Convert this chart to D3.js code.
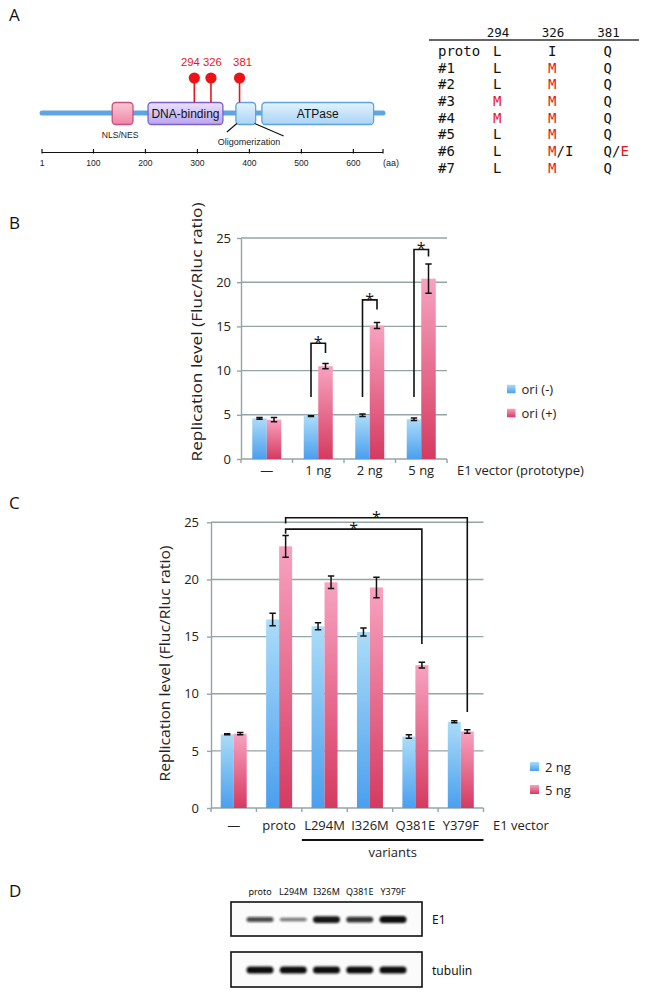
<!DOCTYPE html>
<html><head><meta charset="utf-8">
<script src="https://cdn.jsdelivr.net/npm/d3@7"></script>
<style>body{margin:0;background:#fff} svg{display:block}</style>
</head><body><svg id="fig" width="646" height="1006"></svg>
<script>
// ================= DATA =================
// Panel A – domain map
const domainNames = ["NLS/NES", "DNA-binding", "Oligomerization", "ATPase"];
const domainStart = [136, 205, 374, 424];
const domainEnd = [176, 349, 412, 639];
const proteinLength = 657;
const siteLabels = [294, 326, 381];
const rulerTicks = [1, 100, 200, 300, 400, 500, 600];
// Panel A – table
const tableHeader = ["294", "326", "381"];
const tableRows = ["proto", "#1", "#2", "#3", "#4", "#5", "#6", "#7"];
const col294 = ["L", "L", "L", "M", "M", "L", "L", "L"];
const col326 = ["I", "M", "M", "M", "M", "M", "M/I", "M"];
const col381 = ["Q", "Q", "Q", "Q", "Q", "Q", "Q/E", "Q"];

// Panel B
const bCategories = ["—", "1 ng", "2 ng", "5 ng"];
const bSeries = ["ori (-)", "ori (+)"];
const bOriMinus = [4.6, 4.85, 4.95, 4.5];
const bOriMinusErr = [0.1, 0.05, 0.15, 0.15];
const bOriPlus = [4.45, 10.5, 15.1, 20.4];
const bOriPlusErr = [0.25, 0.3, 0.35, 1.65];
const bYTicks = [0, 5, 10, 15, 20, 25];
const bCompared = ["1 ng", "2 ng", "5 ng"];
const bBracketTop = [13.1, 18.0, 23.7];
const bBracketLeftEnd = [7, 7, 7];
const bBracketRightEnd = [12.0, 16.9, 22.9];

// Panel C
const cCategories = ["—", "proto", "L294M", "I326M", "Q381E", "Y379F"];
const cSeries = ["2 ng", "5 ng"];
const c2ng = [6.45, 16.5, 15.9, 15.4, 6.25, 7.55];
const c2ngErr = [0.05, 0.55, 0.3, 0.35, 0.15, 0.08];
const c5ng = [6.5, 22.9, 19.75, 19.3, 12.5, 6.7];
const c5ngErr = [0.1, 0.95, 0.55, 0.9, 0.25, 0.15];
const cYTicks = [0, 5, 10, 15, 20, 25];
const cCompareFrom = ["proto", "proto"];
const cCompareTo = ["Q381E", "Y379F"];
const cBracketTop = [24.4, 25.4];
const cBracketLeftEnd = [24.0, 24.9];
const cBracketRightEnd = [14.35, 8.4];
const cVariants = ["L294M", "I326M", "Q381E", "Y379F"];

// Panel D – western blot
const dLanes = ["proto", "L294M", "I326M", "Q381E", "Y379F"];
const dE1 = [0.6, 0.3, 0.95, 0.75, 1.0];
const dTubulin = [1.0, 1.0, 1.0, 1.0, 1.0];

// ================= DRAWING =================
const svg = d3.select("#fig");
const defs = svg.append("defs");
const SANS = "'Open Sans', 'Noto Sans', sans-serif";
const ARIAL = "'Liberation Sans', Arial, sans-serif";
const MONO = "'DejaVu Sans Mono', 'Liberation Mono', monospace";

function grad(id, c1, c2) {
  const g = defs.append("linearGradient").attr("id", id)
    .attr("x1", 0).attr("y1", 0).attr("x2", 0).attr("y2", 1);
  g.append("stop").attr("offset", "0%").attr("stop-color", c1);
  g.append("stop").attr("offset", "100%").attr("stop-color", c2);
}
grad("blueBar", "#abdcf8", "#4a9fee");
grad("pinkBar", "#f8a2c0", "#d53a60");
grad("gNLS", "#fbc9d8", "#ef84a6");
grad("gDNA", "#ebe2fc", "#baa5f0");
grad("gBlue", "#e3f2fd", "#a9d4f5");
const blur = defs.append("filter").attr("id", "blur").attr("x", "-20%").attr("y", "-100%").attr("width", "140%").attr("height", "300%");
blur.append("feGaussianBlur").attr("stdDeviation", 1.1);

// panel letters
[["A", 21], ["B", 229], ["C", 509], ["D", 897]].forEach(([t, yy]) => {
  svg.append("text").attr("x", 9).attr("y", yy).text(t)
    .attr("font-family", SANS).attr("font-size", 17).attr("fill", "#111");
});

// ---------- Panel A: domain diagram ----------
(function () {
  const g = svg.append("g");
  const x = d3.scaleLinear().domain([0, proteinLength]).range([41.5, 383]);
  const lineY = 113, boxTop = 102.5, boxH = 22;
  const labelDodge = [-4, 1.5, 3];
  const domStyle = {
    "NLS/NES": { fill: "url(#gNLS)", stroke: "#c8507a", label: false },
    "DNA-binding": { fill: "url(#gDNA)", stroke: "#7a60c8", label: true },
    "Oligomerization": { fill: "url(#gBlue)", stroke: "#5fa2dc", label: false },
    "ATPase": { fill: "url(#gBlue)", stroke: "#5fa2dc", label: true }
  };
  g.append("line").attr("x1", x(1)).attr("x2", x(proteinLength))
    .attr("y1", lineY).attr("y2", lineY).attr("stroke", "#5ea5e3").attr("stroke-width", 5)
    .attr("stroke-linecap", "round");
  domainNames.forEach((n, i) => {
    const s = domStyle[n];
    g.append("rect").attr("x", x(domainStart[i])).attr("y", boxTop)
      .attr("width", x(domainEnd[i]) - x(domainStart[i])).attr("height", boxH)
      .attr("rx", 3.5).attr("fill", s.fill).attr("stroke", s.stroke).attr("stroke-width", 1.3);
    if (s.label) {
      g.append("text").attr("x", (x(domainStart[i]) + x(domainEnd[i])) / 2).attr("y", boxTop + boxH / 2 + 4.3)
        .attr("text-anchor", "middle").attr("font-family", ARIAL).attr("font-size", 12).attr("fill", "#111").text(n);
    }
  });
  // NLS label
  const iN = domainNames.indexOf("NLS/NES");
  g.append("text").attr("x", (x(domainStart[iN]) + x(domainEnd[iN])) / 2 - 2.5).attr("y", 138)
    .attr("text-anchor", "middle").attr("font-family", ARIAL).attr("font-size", 8.6).attr("fill", "#222").text("NLS/NES");
  // Oligomerization label + leaders
  const iO = domainNames.indexOf("Oligomerization");
  const oL = x(domainStart[iO]), oR = x(domainEnd[iO]);
  g.append("line").attr("x1", oL + 1).attr("y1", boxTop + boxH - 1).attr("x2", oL - 9).attr("y2", 132)
    .attr("stroke", "#111").attr("stroke-width", 1.2);
  g.append("line").attr("x1", oR - 1).attr("y1", boxTop + boxH - 1).attr("x2", oR + 28).attr("y2", 136)
    .attr("stroke", "#111").attr("stroke-width", 1.2);
  g.append("text").attr("x", 249).attr("y", 144.5)
    .attr("text-anchor", "middle").attr("font-family", ARIAL).attr("font-size", 9).attr("fill", "#222").text("Oligomerization");
  // lollipops
  siteLabels.forEach((s, i) => {
    g.append("line").attr("x1", x(s)).attr("x2", x(s)).attr("y1", 78).attr("y2", boxTop)
      .attr("stroke", "#e8161c").attr("stroke-width", 1.6);
    g.append("circle").attr("cx", x(s)).attr("cy", 78).attr("r", 5.6).attr("fill", "#ec1218");
    g.append("text").attr("x", x(s) + labelDodge[i]).attr("y", 65.5).attr("text-anchor", "middle")
      .attr("font-family", ARIAL).attr("font-size", 11.3).attr("fill", "#e8161c").text(s);
  });
  // ruler
  const ry = 152.5;
  g.append("line").attr("x1", x(1)).attr("x2", x(proteinLength)).attr("y1", ry).attr("y2", ry)
    .attr("stroke", "#111").attr("stroke-width", 1.2);
  rulerTicks.concat([proteinLength]).forEach(t => {
    g.append("line").attr("x1", x(t)).attr("x2", x(t)).attr("y1", ry - 3.5).attr("y2", ry + 1)
      .attr("stroke", "#111").attr("stroke-width", 1.2);
  });
  rulerTicks.forEach(t => {
    g.append("text").attr("x", x(t)).attr("y", 165.5).attr("text-anchor", "middle")
      .attr("font-family", ARIAL).attr("font-size", 8.6).attr("fill", "#222").text(t);
  });
  g.append("text").attr("x", x(proteinLength) + 8).attr("y", 165.5).attr("text-anchor", "middle")
    .attr("font-family", ARIAL).attr("font-size", 9).attr("fill", "#222").text("(aa)");
})();

// ---------- Panel A: table ----------
(function () {
  const g = svg.append("g");
  const colX = [493, 548, 603.5];
  const cols = [col294, col326, col381];
  const rowY = d3.scalePoint().domain(tableRows).range([51, 167.7]);
  g.append("line").attr("x1", 429).attr("x2", 639).attr("y1", 40).attr("y2", 40)
    .attr("stroke", "#333").attr("stroke-width", 1.6);
  tableHeader.forEach((h, i) => {
    g.append("text").attr("x", colX[i] + 5).attr("y", 36.5).attr("text-anchor", "middle")
      .attr("font-family", MONO).attr("font-size", 12.5).attr("fill", "#111").text(h);
  });
  tableRows.forEach((r, ri) => {
    const yy = rowY(r) + 5;
    g.append("text").attr("x", 438).attr("y", yy).attr("font-family", MONO).attr("font-size", 14)
      .attr("fill", "#111").text(r);
    cols.forEach((col, ci) => {
      const proto = cols[ci][0];
      const t = g.append("text").attr("x", colX[ci]).attr("y", yy).attr("font-family", MONO).attr("font-size", 14);
      col[ri].split("").forEach(ch => {
        const mutated = /[A-Z]/.test(ch) && ch !== proto;
        t.append("tspan").attr("fill", mutated ? "#e8161c" : "#111").text(ch);
      });
    });
  });
})();

// ---------- Bar panels (B, C) ----------
function barPanel(p) {
  const g = svg.append("g");
  const gridColor = "#93a5a5";
  const x = d3.scaleBand().domain(p.cats).range([p.x0, p.x1]);
  const y = d3.scaleLinear().domain([0, 25]).range([p.y0, p.yTop]);
  const bw = x.bandwidth();
  g.selectAll("line.grid").data(p.yTicks.filter(t => t > 0)).join("line")
    .attr("x1", p.x0).attr("x2", p.x1).attr("y1", d => y(d)).attr("y2", d => y(d))
    .attr("stroke", gridColor).attr("stroke-width", 1.4);
  const ya = g.append("g").attr("transform", `translate(${p.x0},0)`)
    .call(d3.axisLeft(y).tickValues(p.yTicks).tickSize(4).tickSizeOuter(0).tickPadding(p.tickPad));
  ya.select(".domain").attr("stroke", gridColor).attr("stroke-width", 1.4);
  ya.selectAll(".tick line").attr("stroke", gridColor).attr("stroke-width", 1.4);
  ya.selectAll(".tick text").attr("font-family", SANS).attr("font-size", 13).attr("fill", "#222");
  // x axis
  g.append("line").attr("x1", p.x0).attr("x2", p.x1).attr("y1", y(0)).attr("y2", y(0))
    .attr("stroke", gridColor).attr("stroke-width", 1.4);
  const bounds = p.cats.map(c => x(c)).concat([x(p.cats[p.cats.length - 1]) + bw]);
  g.selectAll("line.xt").data(bounds).join("line")
    .attr("x1", d => d).attr("x2", d => d).attr("y1", y(0)).attr("y2", y(0) + 4)
    .attr("stroke", gridColor).attr("stroke-width", 1.4);
  // bars
  const series = [
    { vals: p.s1, errs: p.e1, fill: "url(#blueBar)", off: -p.barW },
    { vals: p.s2, errs: p.e2, fill: "url(#pinkBar)", off: 0 }
  ];
  series.forEach(s => {
    g.selectAll(null).data(p.cats).join("rect")
      .attr("x", c => x(c) + bw / 2 + s.off).attr("width", p.barW)
      .attr("y", (c, i) => y(s.vals[i])).attr("height", (c, i) => y(0) - y(s.vals[i]))
      .attr("fill", s.fill);
  });
  series.forEach(s => {
    p.cats.forEach((c, i) => {
      const cx = x(c) + bw / 2 + s.off + p.barW / 2;
      const hi = y(s.vals[i] + s.errs[i]), lo = y(s.vals[i] - s.errs[i]);
      g.append("path").attr("d", `M${cx},${hi}V${lo}M${cx - 3.2},${hi}H${cx + 3.2}M${cx - 3.2},${lo}H${cx + 3.2}`)
        .attr("stroke", "#111").attr("stroke-width", 1.5).attr("fill", "none");
    });
  });
  // x labels
  p.cats.forEach(c => {
    g.append("text").attr("x", x(c) + bw / 2).attr("y", p.xLabY).attr("dominant-baseline", "central")
      .attr("text-anchor", "middle").attr("font-family", SANS).attr("font-size", 13).attr("fill", "#222").text(c);
  });
  g.append("text").attr("x", p.axisNameX).attr("y", p.xLabY).attr("dominant-baseline", "central")
    .attr("font-family", SANS).attr("font-size", 13).attr("fill", "#222").text(p.axisName);
  // y title
  g.append("text").attr("transform", `translate(${p.titleX},${p.titleY}) rotate(-90)`)
    .attr("text-anchor", "middle").attr("font-family", SANS).attr("font-size", p.titleSize)
    .attr("textLength", p.titleLen).attr("lengthAdjust", "spacingAndGlyphs")
    .attr("fill", "#222").text("Replication level (Fluc/Rluc ratio)");
  // legend
  p.seriesNames.forEach((n, i) => {
    const ly = p.legY[i];
    g.append("rect").attr("x", p.legX).attr("y", ly - p.legSq / 2).attr("width", p.legSq).attr("height", p.legSq)
      .attr("fill", i === 0 ? "url(#blueBar)" : "url(#pinkBar)");
    g.append("text").attr("x", p.legX + p.legSq + 6).attr("y", ly).attr("dominant-baseline", "central")
      .attr("font-family", SANS).attr("font-size", 13).attr("fill", "#222").text(n);
  });
  return { x, y, bw, g };
}

// Panel B
(function () {
  const P = barPanel({
    cats: bCategories, s1: bOriMinus, e1: bOriMinusErr, s2: bOriPlus, e2: bOriPlusErr,
    yTicks: bYTicks, x0: 241, x1: 447, y0: 459, yTop: 238, barW: 14.5, tickPad: 6,
    xLabY: 470, axisName: "E1 vector (prototype)", axisNameX: 457,
    titleX: 202, titleY: 332, titleSize: 15, titleLen: 259,
    seriesNames: bSeries, legX: 507, legY: [389, 413], legSq: 8.5
  });
  const { x, y, bw, g } = P;
  bCompared.forEach((c, i) => {
    const l = x(c) + bw / 2 - 14.5 / 2, r = x(c) + bw / 2 + 14.5 / 2;
    g.append("path").attr("d", `M${l},${y(bBracketLeftEnd[i])}V${y(bBracketTop[i])}H${r}V${y(bBracketRightEnd[i])}`)
      .attr("fill", "none").attr("stroke", "#111").attr("stroke-width", 1.6);
    g.append("text").attr("x", (l + r) / 2).attr("y", y(bBracketTop[i]) + 5).attr("text-anchor", "middle")
      .attr("font-family", SANS).attr("font-size", 16).attr("fill", "#111").text("*");
  });
})();

// Panel C
(function () {
  const bwBar = 13;
  const P = barPanel({
    cats: cCategories, s1: c2ng, e1: c2ngErr, s2: c5ng, e2: c5ngErr,
    yTicks: cYTicks, x0: 211, x1: 483.5, y0: 808, yTop: 522.3, barW: bwBar, tickPad: 8,
    xLabY: 825, axisName: "E1 vector", axisNameX: 493,
    titleX: 170, titleY: 663.5, titleSize: 14.5, titleLen: 236,
    seriesNames: cSeries, legX: 530, legY: [766.5, 789.5], legSq: 9
  });
  const { x, y, bw, g } = P;
  cCompareFrom.forEach((c, i) => {
    const l = x(c) + bw / 2 + bwBar / 2, r = x(cCompareTo[i]) + bw / 2 + bwBar / 2;
    g.append("path").attr("d", `M${l},${y(cBracketLeftEnd[i])}V${y(cBracketTop[i])}H${r}V${y(cBracketRightEnd[i])}`)
      .attr("fill", "none").attr("stroke", "#111").attr("stroke-width", 1.6);
    g.append("text").attr("x", (l + r) / 2).attr("y", y(cBracketTop[i]) + 5).attr("text-anchor", "middle")
      .attr("font-family", SANS).attr("font-size", 16).attr("fill", "#111").text("*");
  });
  // variants underline
  const vl = x(cVariants[0]), vr = x(cVariants[cVariants.length - 1]) + bw;
  g.append("line").attr("x1", vl).attr("x2", vr).attr("y1", 840).attr("y2", 840)
    .attr("stroke", "#111").attr("stroke-width", 2);
  g.append("text").attr("x", (vl + vr) / 2).attr("y", 852).attr("dominant-baseline", "central")
    .attr("text-anchor", "middle").attr("font-family", SANS).attr("font-size", 13).attr("fill", "#222").text("variants");
})();

// ---------- Panel D: blot ----------
(function () {
  const g = svg.append("g");
  const bx0 = 231, bx1 = 422;
  const lane = d3.scalePoint().domain(dLanes).range([260, 393]);
  dLanes.forEach(l => {
    g.append("text").attr("x", lane(l)).attr("y", 891).attr("dominant-baseline", "central")
      .attr("text-anchor", "middle").attr("font-family", "'Noto Sans', sans-serif").attr("font-size", 9)
      .attr("fill", "#111").text(l);
  });
  const blots = [
    { name: "E1", top: 902, h: 34, vals: dE1 },
    { name: "tubulin", top: 952, h: 35, vals: dTubulin }
  ];
  blots.forEach(b => {
    g.append("rect").attr("x", bx0).attr("y", b.top).attr("width", bx1 - bx0).attr("height", b.h)
      .attr("fill", "#fbfbfb").attr("stroke", "#111").attr("stroke-width", 1.6);
    const cy = b.top + b.h / 2 + 0.5;
    dLanes.forEach((l, i) => {
      const v = b.vals[i];
      const th = b.name === "E1" ? 2 + 5 * v : 7;
      g.append("rect").attr("x", lane(l) - 13.5).attr("y", cy - th / 2).attr("width", 27).attr("height", th)
        .attr("rx", th / 2).attr("fill", "#111").attr("opacity", 0.35 + 0.65 * v)
        .attr("filter", "url(#blur)");
    });
    g.append("text").attr("x", 432).attr("y", cy).attr("dominant-baseline", "central")
      .attr("font-family", "'Noto Sans', sans-serif").attr("font-size", 12).attr("fill", "#111").text(b.name);
  });
})();
</script>
</body></html>
